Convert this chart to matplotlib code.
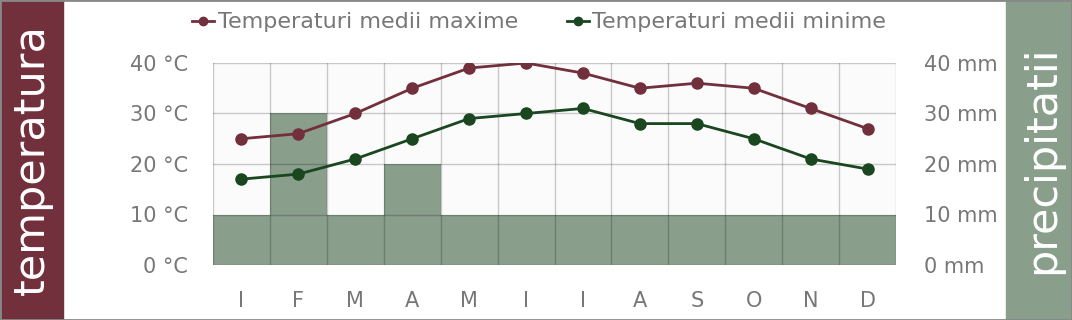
import matplotlib.pyplot as plt
from matplotlib.patches import Rectangle

months = ['I', 'F', 'M', 'A', 'M', 'I', 'I', 'A', 'S', 'O', 'N', 'D']
temp_max = [25, 26, 30, 35, 39, 40, 38, 35, 36, 35, 31, 27]
temp_min = [17, 18, 21, 25, 29, 30, 31, 28, 28, 25, 21, 19]
precip = [10, 30, 10, 20, 10, 10, 10, 10, 10, 10, 10, 10]

maroon = '#722f3c'
green_dark = '#1a4620'
green_bar = '#8a9e8c'
txt_grey = '#777777'

plt.rcParams['font.family'] = ['DejaVu Sans']

fig = plt.figure(figsize=(10.72, 3.2), dpi=100)
ax = fig.add_axes([213 / 1072, 55 / 320, 683 / 1072, 202 / 320])

x = [i + 0.5 for i in range(len(months))]

# precipitation bars on the right axis, drawn under the temperature axes
ax2 = ax.twinx()
ax.set_zorder(2)
ax.patch.set_visible(False)
ax2.set_zorder(1)
ax2.patch.set_visible(True)
ax2.patch.set_facecolor('#fbfbfb')
ax2.bar(x, precip, width=1.0, color=green_bar, zorder=1)
ax2.set_ylim(0, 40)
ax2.set_yticks([0, 10, 20, 30, 40])
ax2.set_yticklabels([f'{v} mm' for v in [0, 10, 20, 30, 40]])

ax.set_xlim(0, 12)
ax.set_ylim(0, 40)
ax.set_xticks(range(13), minor=False)
ax.set_xticklabels([])
ax.set_xticks(x, minor=True)
ax.set_xticklabels(months, minor=True)
ax.set_yticks([0, 10, 20, 30, 40])
ax.set_yticklabels([f'{v} °C' for v in [0, 10, 20, 30, 40]])
ax.grid(True, which='major', color='black', alpha=0.2, linewidth=1)
ax.set_axisbelow(False)

l1, = ax.plot(x, temp_max, color=maroon, lw=2, marker='o', ms=8, zorder=5,
              label='Temperaturi medii maxime')
l2, = ax.plot(x, temp_min, color=green_dark, lw=2, marker='o', ms=8, zorder=5,
              label='Temperaturi medii minime')

for a in (ax, ax2):
    for s in a.spines.values():
        s.set_visible(False)
    a.tick_params(which='both', length=0, colors=txt_grey, labelsize=15)
ax.tick_params(axis='y', pad=18)
ax2.tick_params(axis='y', pad=20)
ax.tick_params(axis='x', which='minor', pad=19)

fig.legend(handles=[l1, l2], loc='center', bbox_to_anchor=(0.503, 0.93), ncol=2,
           frameon=False, fontsize=16, labelcolor=txt_grey, handlelength=1.0,
           handletextpad=0.15, columnspacing=2.2, markerscale=0.75)

# side panels
fig.patches.append(Rectangle((0, 0), 63 / 1072, 1, transform=fig.transFigure,
                             color=maroon, zorder=0))
fig.patches.append(Rectangle((1006 / 1072, 0), 66 / 1072, 1, transform=fig.transFigure,
                             color=green_bar, zorder=0))
fig.text(32 / 1072, 0.5, 'temperatura', rotation=90, ha='center', va='center',
         color='white', fontsize=31)
fig.text(1042 / 1072, 0.5, 'precipitatii', rotation=90, ha='center', va='center',
         color='white', fontsize=31)
fig.patches.append(Rectangle((0, 0), 1, 1, transform=fig.transFigure, fill=False,
                             edgecolor='#888888', lw=2, zorder=10))

fig.savefig('out.png', dpi=100)
